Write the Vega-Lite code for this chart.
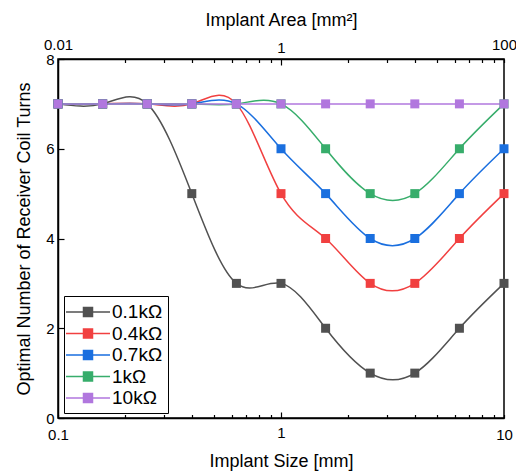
{
  "$schema": "https://vega.github.io/schema/vega-lite/v6.json",
  "width": 446,
  "height": 359,
  "autosize": "none",
  "padding": {"left": 58, "top": 59, "right": 12, "bottom": 55},
  "config": {
    "font": "Liberation Sans",
    "view": {"stroke": "black", "strokeWidth": 1.5},
    "axis": {
      "domainColor": "black",
      "domainWidth": 1.5,
      "tickColor": "black",
      "tickWidth": 1.2,
      "labelColor": "black",
      "titleColor": "black",
      "labelFontSize": 15,
      "titleFontSize": 18,
      "titleFontWeight": "normal",
      "grid": false
    }
  },
  "data": {
    "values": [
      {"size": 0.1, "r": "0.1kΩ", "n": 7}, {"size": 0.1585, "r": "0.1kΩ", "n": 7}, {"size": 0.2512, "r": "0.1kΩ", "n": 7}, {"size": 0.3981, "r": "0.1kΩ", "n": 5}, {"size": 0.631, "r": "0.1kΩ", "n": 3}, {"size": 1, "r": "0.1kΩ", "n": 3}, {"size": 1.585, "r": "0.1kΩ", "n": 2}, {"size": 2.512, "r": "0.1kΩ", "n": 1}, {"size": 3.981, "r": "0.1kΩ", "n": 1}, {"size": 6.31, "r": "0.1kΩ", "n": 2}, {"size": 10, "r": "0.1kΩ", "n": 3},
      {"size": 0.1, "r": "0.4kΩ", "n": 7}, {"size": 0.1585, "r": "0.4kΩ", "n": 7}, {"size": 0.2512, "r": "0.4kΩ", "n": 7}, {"size": 0.3981, "r": "0.4kΩ", "n": 7}, {"size": 0.631, "r": "0.4kΩ", "n": 7}, {"size": 1, "r": "0.4kΩ", "n": 5}, {"size": 1.585, "r": "0.4kΩ", "n": 4}, {"size": 2.512, "r": "0.4kΩ", "n": 3}, {"size": 3.981, "r": "0.4kΩ", "n": 3}, {"size": 6.31, "r": "0.4kΩ", "n": 4}, {"size": 10, "r": "0.4kΩ", "n": 5},
      {"size": 0.1, "r": "0.7kΩ", "n": 7}, {"size": 0.1585, "r": "0.7kΩ", "n": 7}, {"size": 0.2512, "r": "0.7kΩ", "n": 7}, {"size": 0.3981, "r": "0.7kΩ", "n": 7}, {"size": 0.631, "r": "0.7kΩ", "n": 7}, {"size": 1, "r": "0.7kΩ", "n": 6}, {"size": 1.585, "r": "0.7kΩ", "n": 5}, {"size": 2.512, "r": "0.7kΩ", "n": 4}, {"size": 3.981, "r": "0.7kΩ", "n": 4}, {"size": 6.31, "r": "0.7kΩ", "n": 5}, {"size": 10, "r": "0.7kΩ", "n": 6},
      {"size": 0.1, "r": "1kΩ", "n": 7}, {"size": 0.1585, "r": "1kΩ", "n": 7}, {"size": 0.2512, "r": "1kΩ", "n": 7}, {"size": 0.3981, "r": "1kΩ", "n": 7}, {"size": 0.631, "r": "1kΩ", "n": 7}, {"size": 1, "r": "1kΩ", "n": 7}, {"size": 1.585, "r": "1kΩ", "n": 6}, {"size": 2.512, "r": "1kΩ", "n": 5}, {"size": 3.981, "r": "1kΩ", "n": 5}, {"size": 6.31, "r": "1kΩ", "n": 6}, {"size": 10, "r": "1kΩ", "n": 7},
      {"size": 0.1, "r": "10kΩ", "n": 7}, {"size": 0.1585, "r": "10kΩ", "n": 7}, {"size": 0.2512, "r": "10kΩ", "n": 7}, {"size": 0.3981, "r": "10kΩ", "n": 7}, {"size": 0.631, "r": "10kΩ", "n": 7}, {"size": 1, "r": "10kΩ", "n": 7}, {"size": 1.585, "r": "10kΩ", "n": 7}, {"size": 2.512, "r": "10kΩ", "n": 7}, {"size": 3.981, "r": "10kΩ", "n": 7}, {"size": 6.31, "r": "10kΩ", "n": 7}, {"size": 10, "r": "10kΩ", "n": 7}
    ]
  },
  "resolve": {"axis": {"x": "independent"}},
  "layer": [
    {
      "mark": {"type": "line", "interpolate": "natural", "strokeWidth": 1.5},
      "encoding": {
        "x": {
          "field": "size", "type": "quantitative",
          "scale": {"type": "log", "domain": [0.1, 10], "nice": false},
          "axis": {
            "orient": "bottom",
            "title": "Implant Size [mm]",
            "values": [0.1, 0.2, 0.3, 0.4, 0.5, 0.6, 0.7, 0.8, 0.9, 1, 2, 3, 4, 5, 6, 7, 8, 9, 10],
            "labelExpr": "datum.value == 0.1 ? '0.1' : datum.value == 1 ? '1' : datum.value == 10 ? '10' : ''",
            "tickSize": {"condition": {"test": "datum.value == 1", "value": -6}, "value": -3.5},
            "labelPadding": 13,
            "labelOverlap": false,
            "labelFlush": false,
            "titlePadding": 10
          }
        },
        "y": {
          "field": "n", "type": "quantitative",
          "scale": {"domain": [0, 8], "nice": false},
          "axis": {"title": "Optimal Number of Receiver Coil Turns", "values": [0, 2, 4, 6, 8], "tickSize": -6, "labelPadding": 10, "titlePadding": 12}
        },
        "color": {
          "field": "r", "type": "nominal",
          "scale": {"domain": ["0.1kΩ", "0.4kΩ", "0.7kΩ", "1kΩ", "10kΩ"], "range": ["#515151", "#F14040", "#1A6FDF", "#37AD6B", "#B177DE"]},
          "legend": {
            "orient": "none", "legendX": 6, "legendY": 237,
            "title": null,
            "strokeColor": "black", "fillColor": "white",
            "padding": 5,
            "symbolType": "M-2.2,0H2.2M-0.45,-0.45H0.45V0.45H-0.45Z",
            "symbolSize": 400,
            "symbolOffset": 8,
            "symbolStrokeWidth": 1.5,
            "labelFontSize": 19,
            "labelColor": "black",
            "labelOffset": 13,
            "rowPadding": 0.5
          }
        }
      }
    },
    {
      "mark": {"type": "point", "shape": "square", "filled": true, "size": 81, "opacity": 1},
      "encoding": {
        "x": {
          "field": "size", "type": "quantitative",
          "scale": {"type": "log", "domain": [0.1, 10], "nice": false},
          "axis": {
            "orient": "top",
            "title": "Implant Area [mm²]",
            "values": [0.1, 0.2, 0.3, 0.4, 0.5, 0.6, 0.7, 0.8, 0.9, 1, 2, 3, 4, 5, 6, 7, 8, 9, 10],
            "labelExpr": "datum.value == 0.1 ? '0.01' : datum.value == 1 ? '1' : datum.value == 10 ? '100' : ''",
            "tickSize": {"condition": {"test": "datum.value == 1", "value": -6}, "value": -3.5},
            "labelPadding": 10,
            "labelOverlap": false,
            "labelFlush": false,
            "titlePadding": 8
          }
        },
        "y": {"field": "n", "type": "quantitative", "scale": {"domain": [0, 8], "nice": false}},
        "color": {"field": "r", "type": "nominal"}
      }
    }
  ]
}
